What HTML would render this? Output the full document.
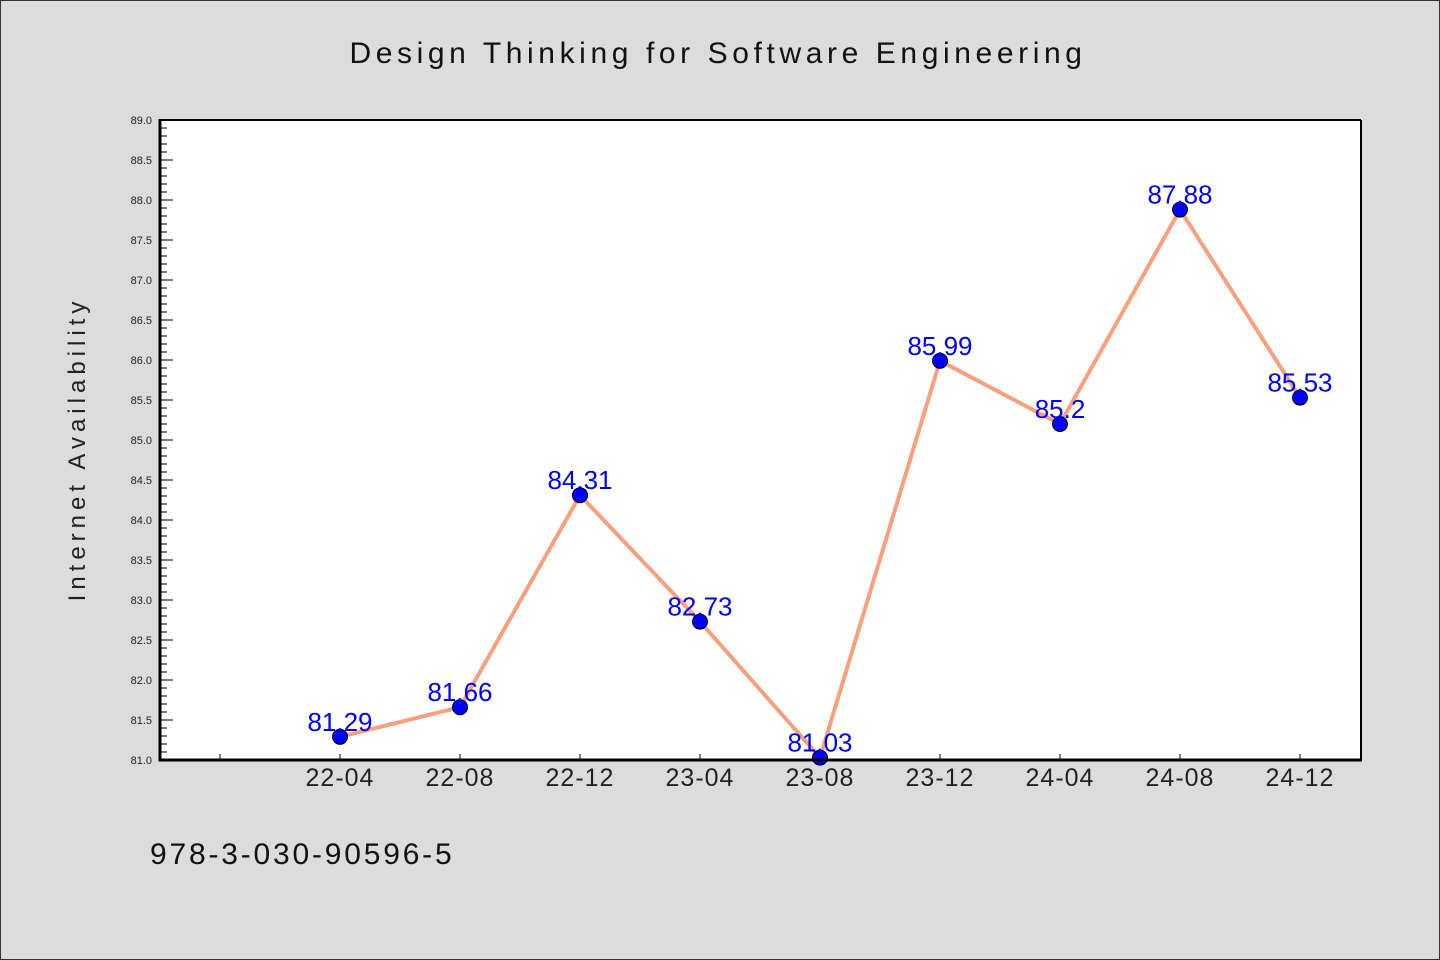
<!DOCTYPE html>
<html><head><meta charset="utf-8"><style>
body{margin:0;background:#dcdcdc;}
svg{display:block;font-family:"WenQuanYi Zen Hei","Liberation Sans",sans-serif;}
</style></head><body>
<svg id="chart" width="1440" height="960" viewBox="0 0 1440 960">
<rect x="0.5" y="0.5" width="1439" height="959" fill="#dcdcdc" stroke="#333"/>
<text x="718" y="63" text-anchor="middle" font-size="30" letter-spacing="4.6" fill="#111">Design Thinking for Software Engineering</text>
<rect x="160" y="120" width="1201" height="640" fill="#fff"/>
<g id="yaxis"></g>
<g id="xaxis"></g>
<g id="series"></g>
<line x1="160" y1="120" x2="1361" y2="120" stroke="#000" stroke-width="2"/>
<line x1="1361" y1="120" x2="1361" y2="760" stroke="#000" stroke-width="2"/>
<line x1="160" y1="119" x2="160" y2="761.5" stroke="#000" stroke-width="3"/>
<line x1="160" y1="760" x2="1362" y2="760" stroke="#000" stroke-width="3"/>
<text transform="translate(85,449) rotate(-90)" text-anchor="middle" font-size="24" letter-spacing="5" fill="#222">Internet Availability</text>
<text x="150" y="864" font-size="30" letter-spacing="2.8" fill="#111">978-3-030-90596-5</text>
</svg>
<script>
const categories=["22-04","22-08","22-12","23-04","23-08","23-12","24-04","24-08","24-12"];
const values=[81.29,81.66,84.31,82.73,81.03,85.99,85.2,87.88,85.53];
const valueLabels=["81.29","81.66","84.31","82.73","81.03","85.99","85.2","87.88","85.53"];
const yTicks=["81.0","81.5","82.0","82.5","83.0","83.5","84.0","84.5","85.0","85.5","86.0","86.5","87.0","87.5","88.0","88.5","89.0"];
(function(){
const yMin=81,yMax=89,plotTop=120,plotBottom=760;
const NS="http://www.w3.org/2000/svg";
function y(v){return plotBottom-(v-yMin)/(yMax-yMin)*(plotBottom-plotTop);}
function x(i){return 340+120*i;}
function mk(tag,attrs,parent){const e=document.createElementNS(NS,tag);for(const k in attrs)e.setAttribute(k,attrs[k]);parent.appendChild(e);return e;}
const ya=document.getElementById('yaxis'),xa=document.getElementById('xaxis'),sr=document.getElementById('series');
for(let k=0;k<=80;k++){const v=yMin+k*0.1;const major=k%5===0;
 const t=mk('line',{x1:160,x2:major?173:167,y1:y(v),y2:y(v),stroke:'#000','stroke-width':1},ya);
 
 }
yTicks.forEach(s=>{const t=mk('text',{x:152,y:y(parseFloat(s))+4,'text-anchor':'end','font-size':11,fill:'#222'},ya);t.textContent=s;
 
 });
const t0=mk('line',{x1:220,x2:220,y1:760,y2:754,stroke:'#000'},xa);


categories.forEach((c,i)=>{const l=mk('line',{x1:x(i),x2:x(i),y1:760,y2:754,stroke:'#000'},xa);
 
 
 const t=mk('text',{x:x(i),y:786,'text-anchor':'middle','font-size':25,'letter-spacing':1,fill:'#222'},xa);t.textContent=c;
 
 });
const pl=mk('polyline',{points:values.map((v,i)=>x(i)+','+y(v)).join(' '),fill:'none',stroke:'#f9a07e','stroke-width':4,'stroke-linejoin':'round'},sr);


values.forEach((v,i)=>{const c=mk('circle',{cx:x(i),cy:y(v),r:7.5,fill:'#0000ff',stroke:'#000','stroke-width':1},sr);
 
 });
values.forEach((v,i)=>{const t=mk('text',{x:x(i),y:y(v)-6,'text-anchor':'middle','font-size':26,fill:'#0000ff'},sr);t.textContent=valueLabels[i];
 
 });
})();
</script>
</body></html>
